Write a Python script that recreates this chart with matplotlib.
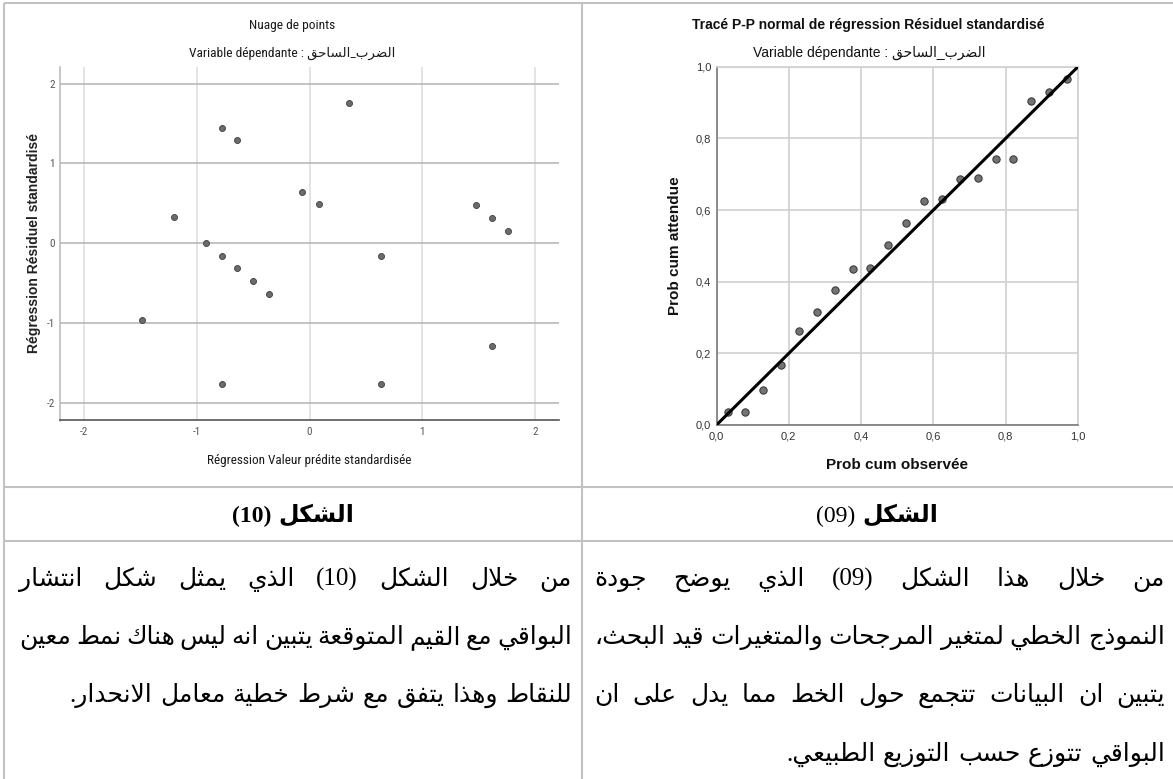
import re
import matplotlib
matplotlib.use("Agg")
import matplotlib.pyplot as plt
from matplotlib import font_manager as fm
from matplotlib.ticker import FuncFormatter

# ---------------- data ----------------
# standardized predicted values / standardized residuals (scatter)
pred_std = [0.354, -0.781, -0.643, -0.067, 0.080, -1.206, -0.920, -0.781, -0.643,
            -0.501, -0.359, -1.483, -0.781, 0.632, 0.632, 1.481, 1.619, 1.758, 1.619]
resid_std = [1.763, 1.445, 1.287, 0.639, 0.485, 0.322, 0.000, -0.155, -0.314,
             -0.473, -0.636, -0.958, -1.762, -0.155, -1.762, 0.480, 0.317, 0.159, -1.285]
std_ticks = [-2, -1, 0, 1, 2]

# observed / expected cumulative probabilities (P-P plot)
obs_cum = [0.031, 0.080, 0.130, 0.179, 0.228, 0.278, 0.327, 0.377, 0.426, 0.475,
           0.525, 0.574, 0.623, 0.673, 0.722, 0.772, 0.821, 0.870, 0.920, 0.969]
exp_cum = [0.037, 0.037, 0.098, 0.168, 0.261, 0.316, 0.376, 0.436, 0.438, 0.503,
           0.564, 0.626, 0.631, 0.687, 0.688, 0.743, 0.743, 0.905, 0.930, 0.965]
prob_ticks = [0.0, 0.2, 0.4, 0.6, 0.8, 1.0]

dep_var = "الضرب_الساحق"
scatter_title = "Nuage de points"
scatter_xlabel = "Régression Valeur prédite standardisée"
scatter_ylabel = "Régression Résiduel standardisé"
pp_title = "Tracé P-P normal de régression Résiduel standardisé"
pp_xlabel = "Prob cum observée"
pp_ylabel = "Prob cum attendue"
subtitle_prefix = "Variable dépendante : "

caption_word = "الشكل"
caption_left_num = "(10)"
caption_right_num = "(09)"
para_left = [
    "من خلال الشكل (10) الذي يمثل شكل انتشار",
    "البواقي مع القيم المتوقعة يتبين انه ليس هناك نمط معين",
    "للنقاط وهذا يتفق مع شرط خطية معامل الانحدار.",
]
para_right = [
    "من خلال هذا الشكل (09) الذي يوضح جودة",
    "النموذج الخطي لمتغير المرجحات والمتغيرات قيد البحث،",
    "يتبين ان البيانات تتجمع حول الخط مما يدل على ان",
    "البواقي تتوزع حسب التوزيع الطبيعي.",
]

# ---------------- fonts ----------------
_names = {f.name for f in fm.fontManager.ttflist}


def pick(*cands):
    for c in cands:
        if c in _names:
            return c
    return None


SANS = pick("Liberation Sans", "Arimo") or "DejaVu Sans"
SERIF = pick("Liberation Serif", "Tinos") or "DejaVu Serif"
NARROW = pick("Liberation Sans Narrow", "Arial Narrow", "Roboto Condensed",
              "Open Sans Condensed", "DejaVu Sans Condensed")
if NARROW is None:
    NARROW, NSCALE = SANS, 0.86
else:
    NSCALE = 1.0
ARABIC = "DejaVu Sans"

plt.rcParams["axes.unicode_minus"] = False

# ---------------- Arabic shaping (presentation forms + visual order) ----------------
_AR = {
    "\u0627": (0xFE8D, 0xFE8E, None, None),
    "\u0628": (0xFE8F, 0xFE90, 0xFE91, 0xFE92),
    "\u0629": (0xFE93, 0xFE94, None, None),
    "\u062A": (0xFE95, 0xFE96, 0xFE97, 0xFE98),
    "\u062B": (0xFE99, 0xFE9A, 0xFE9B, 0xFE9C),
    "\u062C": (0xFE9D, 0xFE9E, 0xFE9F, 0xFEA0),
    "\u062D": (0xFEA1, 0xFEA2, 0xFEA3, 0xFEA4),
    "\u062E": (0xFEA5, 0xFEA6, 0xFEA7, 0xFEA8),
    "\u062F": (0xFEA9, 0xFEAA, None, None),
    "\u0630": (0xFEAB, 0xFEAC, None, None),
    "\u0631": (0xFEAD, 0xFEAE, None, None),
    "\u0632": (0xFEAF, 0xFEB0, None, None),
    "\u0633": (0xFEB1, 0xFEB2, 0xFEB3, 0xFEB4),
    "\u0634": (0xFEB5, 0xFEB6, 0xFEB7, 0xFEB8),
    "\u0635": (0xFEB9, 0xFEBA, 0xFEBB, 0xFEBC),
    "\u0636": (0xFEBD, 0xFEBE, 0xFEBF, 0xFEC0),
    "\u0637": (0xFEC1, 0xFEC2, 0xFEC3, 0xFEC4),
    "\u0638": (0xFEC5, 0xFEC6, 0xFEC7, 0xFEC8),
    "\u0639": (0xFEC9, 0xFECA, 0xFECB, 0xFECC),
    "\u063A": (0xFECD, 0xFECE, 0xFECF, 0xFED0),
    "\u0641": (0xFED1, 0xFED2, 0xFED3, 0xFED4),
    "\u0642": (0xFED5, 0xFED6, 0xFED7, 0xFED8),
    "\u0643": (0xFED9, 0xFEDA, 0xFEDB, 0xFEDC),
    "\u0644": (0xFEDD, 0xFEDE, 0xFEDF, 0xFEE0),
    "\u0645": (0xFEE1, 0xFEE2, 0xFEE3, 0xFEE4),
    "\u0646": (0xFEE5, 0xFEE6, 0xFEE7, 0xFEE8),
    "\u0647": (0xFEE9, 0xFEEA, 0xFEEB, 0xFEEC),
    "\u0648": (0xFEED, 0xFEEE, None, None),
    "\u0649": (0xFEEF, 0xFEF0, None, None),
    "\u064A": (0xFEF1, 0xFEF2, 0xFEF3, 0xFEF4),
}


def shape(s):
    units, i = [], 0
    while i < len(s):
        if s[i] == "\u0644" and i + 1 < len(s) and s[i + 1] == "\u0627":
            units.append("LA")
            i += 2
        else:
            units.append(s[i])
            i += 1
    out = []
    for k, u in enumerate(units):
        prev = units[k - 1] if k > 0 else None
        nxt = units[k + 1] if k + 1 < len(units) else None
        prev_joins = prev is not None and prev != "LA" and prev in _AR and _AR[prev][2] is not None
        if u == "LA":
            out.append("\uFEFC" if prev_joins else "\uFEFB")
            continue
        f = _AR.get(u)
        if f is None:
            out.append(u)
            continue
        next_joins = f[2] is not None and nxt is not None and (nxt == "LA" or nxt in _AR)
        if prev_joins and next_joins:
            cp = f[3]
        elif prev_joins:
            cp = f[1]
        elif next_joins:
            cp = f[2]
        else:
            cp = f[0]
        out.append(chr(cp))
    return "".join(out)


def visual(s):
    t = shape(s)[::-1]
    t = re.sub(r"[0-9]+", lambda m: m.group(0)[::-1], t)
    return t.translate(str.maketrans("()", ")("))


# ---------------- figure ----------------
W, H = 1173, 779
fig = plt.figure(figsize=(W / 100, H / 100), dpi=100)
fig.patch.set_facecolor("white")

ov = fig.add_axes([0, 0, 1, 1])
ov.set_xlim(0, W)
ov.set_ylim(H, 0)
ov.axis("off")


def px_rect(x0, y0, x1, y1):
    return [x0 / W, 1 - y1 / H, (x1 - x0) / W, (y1 - y0) / H]


# table grid
TC = "#c2c2c2"
for xs, ys in [((4, 4), (3, H)), ((582, 582), (3, H)),
               ((4, W), (3, 3)), ((4, W), (487, 487)), ((4, W), (541, 541))]:
    ov.plot(xs, ys, color=TC, lw=1.5, solid_capstyle="butt", clip_on=False)

# ---------- scatter of residuals ----------
ax1 = fig.add_axes(px_rect(60, 67, 559.3, 420.5))
ax1.scatter(pred_std, resid_std, s=19, c="#6b6b6b", edgecolors="#404040",
            linewidths=0.6, zorder=3)
ax1.set_xlim(-2.215, 2.216)
ax1.set_ylim(-2.222, 2.208)
ax1.set_xticks(std_ticks)
ax1.set_yticks(std_ticks)
fmt_int = FuncFormatter(lambda v, p: f"{v:g}")
ax1.xaxis.set_major_formatter(fmt_int)
ax1.yaxis.set_major_formatter(fmt_int)
ax1.grid(axis="y", color="#b3b3b3", lw=1.1)
ax1.grid(axis="x", color="#dcdcdc", lw=1.1)
ax1.set_axisbelow(True)
for sp in ("top", "right"):
    ax1.spines[sp].set_visible(False)
ax1.spines["left"].set_color("#b8b8b8")
ax1.spines["bottom"].set_color("#555555")
ax1.spines["left"].set_linewidth(1.1)
ax1.spines["bottom"].set_linewidth(1.2)
ax1.tick_params(length=0, labelsize=8 * NSCALE, labelcolor="#555555")
ax1.tick_params(axis="x", pad=5.0)
ax1.tick_params(axis="y", pad=3.6)
for lab in ax1.get_xticklabels() + ax1.get_yticklabels():
    lab.set_family(NARROW)

ov.text(292, 25, scatter_title, ha="center", va="center",
        family=NARROW, fontsize=9.6 * NSCALE, color="#1a1a1a")
ov.text(292, 53, subtitle_prefix + visual(dep_var), ha="center", va="center",
        family=[NARROW, ARABIC], fontsize=9.6 * NSCALE, color="#1a1a1a")
ov.text(309.5, 460, scatter_xlabel, ha="center", va="center",
        family=NARROW, fontsize=9.5 * NSCALE, color="#1a1a1a")
ov.text(34, 243, scatter_ylabel, ha="center", va="center", rotation=90,
        family=SANS, fontsize=10, fontweight="bold", color="#222222")

# ---------- normal P-P plot ----------
ax2 = fig.add_axes(px_rect(716.5, 66.7, 1078, 425))
ax2.scatter(obs_cum, exp_cum, s=28, c="#737373", edgecolors="#333333",
            linewidths=0.7, zorder=3)
ax2.plot([0, 1], [0, 1], color="black", lw=2.2, zorder=4, solid_capstyle="butt")
ax2.set_xlim(0, 1)
ax2.set_ylim(0, 1)
ax2.set_xticks(prob_ticks)
ax2.set_yticks(prob_ticks)
fmt_comma = FuncFormatter(lambda v, p: f"{v:.1f}".replace(".", ","))
ax2.xaxis.set_major_formatter(fmt_comma)
ax2.yaxis.set_major_formatter(fmt_comma)
ax2.grid(True, color="#d0d0d0", lw=1.2)
ax2.set_axisbelow(True)
for sp in ("top", "right"):
    ax2.spines[sp].set_color("#d0d0d0")
    ax2.spines[sp].set_linewidth(1.2)
for sp in ("left", "bottom"):
    ax2.spines[sp].set_color("#7a7a7a")
    ax2.spines[sp].set_linewidth(1.2)
ax2.tick_params(length=0, labelsize=8, labelcolor="#333333")
ax2.tick_params(axis="x", pad=5.0)
ax2.tick_params(axis="y", pad=3.8)
for lab in ax2.get_xticklabels() + ax2.get_yticklabels():
    lab.set_family(SANS)

ov.text(868.5, 25, pp_title, ha="center", va="center",
        family=SANS, fontsize=10, fontweight="bold", color="#111111")
ov.text(869, 53, subtitle_prefix + visual(dep_var), ha="center", va="center",
        family=[SANS, ARABIC], fontsize=10, color="#111111")
ov.text(896.5, 465, pp_xlabel, ha="center", va="center",
        family=SANS, fontsize=11, fontweight="bold", color="#111111")
ov.text(675, 246, pp_ylabel, ha="center", va="center", rotation=90,
        family=SANS, fontsize=11, fontweight="bold", color="#111111")

# ---------- captions and Arabic paragraphs ----------
renderer = fig.canvas.get_renderer()
TXT_FAMILY = [SERIF, ARABIC]


def width_of(t):
    return t.get_window_extent(renderer).width


def caption(cx, y, num, num_bold):
    a = ov.text(0, y, visual(caption_word), ha="left", va="baseline",
                family=TXT_FAMILY, fontsize=17, fontweight="bold", color="black")
    b = ov.text(0, y, num, ha="left", va="baseline", family=SERIF, fontsize=17,
                fontweight="bold" if num_bold else "normal", color="black")
    wa, wb = width_of(a), width_of(b)
    gap = 7
    total = wa + wb + gap
    x0 = cx - total / 2
    b.set_x(x0)
    a.set_x(x0 + wb + gap)


caption(293, 522, caption_left_num, True)
caption(877, 522, caption_right_num, False)

PARA_SIZE = 18


def para_line(text, x_left, x_right, y, justify):
    words = text.split(" ")
    arts = [ov.text(0, y, visual(w), ha="left", va="baseline", family=TXT_FAMILY,
                    fontsize=PARA_SIZE, color="black") for w in words]
    widths = [width_of(a) for a in arts]
    if justify and len(words) > 1:
        gap = (x_right - x_left - sum(widths)) / (len(words) - 1)
    else:
        gap = PARA_SIZE * 0.42
    x = x_right
    for a, w in zip(arts, widths):
        x -= w
        a.set_x(x)
        x -= gap


line_y = [586, 644, 702, 761]
for i, ln in enumerate(para_left):
    para_line(ln, 19, 572, line_y[i], justify=(i < len(para_left) - 1))
for i, ln in enumerate(para_right):
    para_line(ln, 594, 1165, line_y[i], justify=(i < len(para_right) - 1))

fig.savefig("out.png", dpi=100, facecolor="white")
